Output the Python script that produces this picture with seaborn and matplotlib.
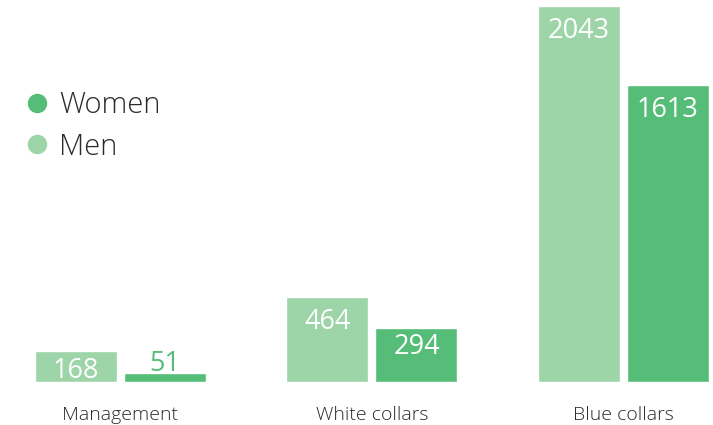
import matplotlib
matplotlib.use("Agg")
import matplotlib.pyplot as plt
from matplotlib.lines import Line2D
import pandas as pd
import seaborn as sns

# Headcount by job category and gender
categories = ["Management", "White collars", "Blue collars"]
men = [168, 464, 2043]
women = [51, 294, 1613]

MEN_COLOR = "#9DD4A8"
WOMEN_COLOR = "#55BD77"
TEXT_COLOR = "#2B2B2B"

df = pd.DataFrame({
    "category": categories * 2,
    "gender": ["Men"] * len(categories) + ["Women"] * len(categories),
    "count": men + women,
})

sns.set_theme(style="white")
plt.rcParams["font.family"] = ["Open Sans", "DejaVu Sans"]

fig = plt.figure(figsize=(7.13, 4.25), dpi=100)
ax = fig.add_axes([0, 43 / 425, 1, 382 / 425])

sns.barplot(
    data=df, x="category", y="count", hue="gender",
    hue_order=["Men", "Women"], order=categories,
    palette={"Men": MEN_COLOR, "Women": WOMEN_COLOR},
    width=0.708, gap=0.079, saturation=1, legend=False, ax=ax,
)

ax.set_xlim(-0.479, 2.356)
ax.set_ylim(0, 2075.6)
sns.despine(ax=ax, left=True, bottom=True)
ax.set_xlabel("")
ax.set_ylabel("")
ax.set_yticks([])
ax.tick_params(axis="x", length=0, pad=17, labelsize=14, labelcolor=TEXT_COLOR)
for lbl in ax.get_xticklabels():
    lbl.set_fontweight("light")

# Value labels: inside the bar top when it fits, otherwise just above the bar
px_per_unit = ax.bbox.height / 2075.6
for container, color in zip(ax.containers, [MEN_COLOR, WOMEN_COLOR]):
    for bar in container:
        h = bar.get_height()
        cx = bar.get_x() + bar.get_width() / 2
        bar_px = h * px_per_unit
        if bar_px > 25:
            pad = 8 if bar_px > 60 else 4
            ax.annotate(f"{h:.0f}", (cx, h), xytext=(0, -pad), textcoords="offset points",
                        ha="center", va="top", color="white", fontsize=19.5)
        else:
            ax.annotate(f"{h:.0f}", (cx, h), xytext=(0, -4), textcoords="offset points",
                        ha="center", va="bottom", color=color, fontsize=19.5)

handles = [
    Line2D([], [], marker="o", linestyle="", markersize=13, color=WOMEN_COLOR, label="Women"),
    Line2D([], [], marker="o", linestyle="", markersize=13, color=MEN_COLOR, label="Men"),
]
fig.legend(handles=handles, loc="upper left", bbox_to_anchor=(0.015, 0.815),
           frameon=False, prop={"size": 21, "weight": "light"}, labelspacing=0.42,
           handletextpad=0.27, handlelength=1.0, borderaxespad=0, labelcolor=TEXT_COLOR)

fig.savefig("out.png", dpi=100)
